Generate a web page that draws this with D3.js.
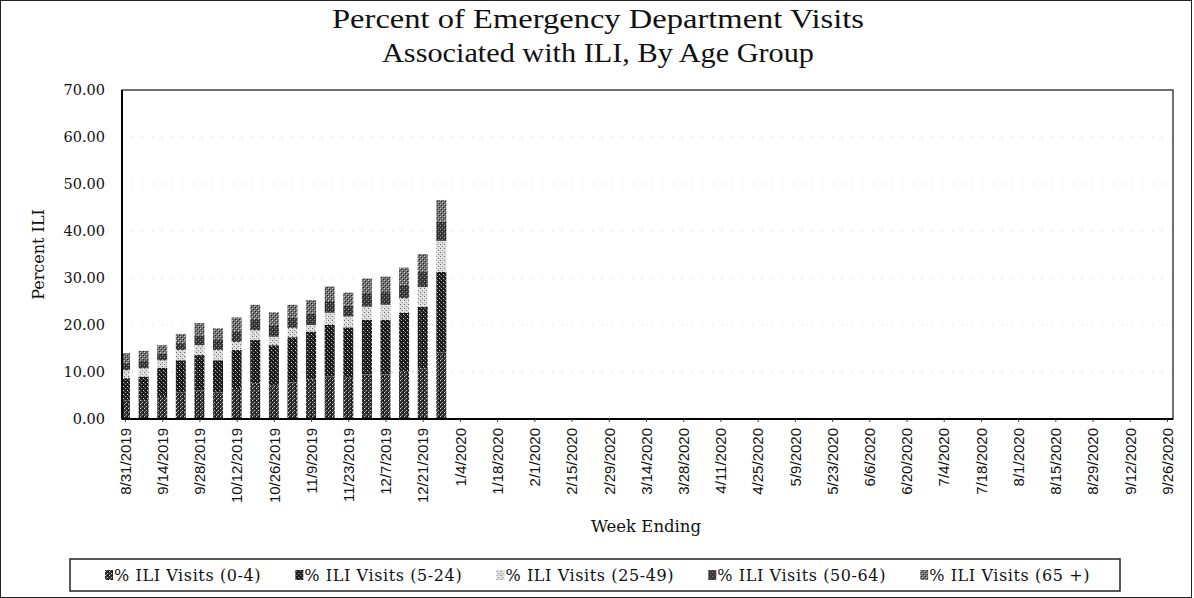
<!DOCTYPE html>
<html>
<head>
<meta charset="utf-8">
<script src="https://cdn.jsdelivr.net/npm/d3@7"></script>
<style>
  html, body { margin: 0; padding: 0; background: #fff; }
  svg { display: block; }
</style>
</head>
<body>
<svg id="chart" width="1194" height="598"></svg>
<script>
// ---- data ----
const categories = [
  "8/31/2019","9/7/2019","9/14/2019","9/21/2019","9/28/2019","10/5/2019","10/12/2019","10/19/2019",
  "10/26/2019","11/2/2019","11/9/2019","11/16/2019","11/23/2019","11/30/2019","12/7/2019","12/14/2019",
  "12/21/2019","12/28/2019",
  "1/4/2020","1/11/2020","1/18/2020","1/25/2020","2/1/2020","2/8/2020","2/15/2020","2/22/2020",
  "2/29/2020","3/7/2020","3/14/2020","3/21/2020","3/28/2020","4/4/2020","4/11/2020","4/18/2020",
  "4/25/2020","5/2/2020","5/9/2020","5/16/2020","5/23/2020","5/30/2020","6/6/2020","6/13/2020",
  "6/20/2020","6/27/2020","7/4/2020","7/11/2020","7/18/2020","7/25/2020","8/1/2020","8/8/2020",
  "8/15/2020","8/22/2020","8/29/2020","9/5/2020","9/12/2020","9/19/2020","9/26/2020"
];
const seriesNames = ["% ILI Visits (0-4)","% ILI Visits (5-24)","% ILI Visits (25-49)","% ILI Visits (50-64)","% ILI Visits (65 +)"];
const age0to4   = [3.9,4.0,4.9,5.6,6.1,5.6,6.6,7.6,7.1,7.8,8.4,9.0,8.8,9.5,9.5,10.2,10.8,14.1];
const age5to24  = [4.8,5.0,6.0,6.9,7.5,6.9,8.1,9.2,8.6,9.6,10.2,11.0,10.7,11.6,11.6,12.4,13.1,17.2];
const age25to49 = [1.7,1.8,1.6,2.2,2.1,2.2,1.7,2.1,1.8,2.0,1.4,2.6,2.3,2.8,3.2,3.1,4.2,6.6];
const age50to64 = [1.6,1.7,1.4,1.5,2.1,2.1,2.3,2.4,2.3,2.2,2.4,2.5,2.3,2.7,2.7,2.9,3.2,4.1];
const age65plus = [2.0,2.0,1.8,1.9,2.6,2.5,2.9,3.0,2.9,2.7,2.9,3.1,2.8,3.3,3.3,3.6,3.8,4.6];
const yTicks = [0,10,20,30,40,50,60,70];
const titleLines = ["Percent of Emergency Department Visits","Associated with ILI, By Age Group"];
const xTitle = "Week Ending";
const yTitle = "Percent ILI";

// ---- build table ----
const seriesArrays = [age0to4, age5to24, age25to49, age50to64, age65plus];
const keys = ["s0","s1","s2","s3","s4"];
const table = categories.map((c, i) => {
  const row = { cat: c };
  keys.forEach((k, j) => { row[k] = seriesArrays[j][i] != null ? seriesArrays[j][i] : 0; });
  return row;
});
const stacked = d3.stack().keys(keys)(table);

const svg = d3.select("#chart");
const W = 1194, H = 598;
const plot = { left: 122, right: 1173, top: 90, bottom: 419 };

// ---- patterns ----
const defs = svg.append("defs");
const patSpecs = [
  { bg: "#303030", dots: [[0,0,"#d8d8d8"],[2,2,"#bbbbbb"],[3,0,"#000"],[1,3,"#777"]] },
  { bg: "#1c1c1c", dots: [[1,0,"#9a9a9a"],[3,2,"#cfcfcf"],[0,3,"#555"]] },
  { bg: "#dcdcdc", dots: [[0,0,"#6a6a6a"],[2,2,"#8a8a8a"],[3,1,"#fff"]] },
  { bg: "#3a3a3a", dots: [[0,1,"#a0a0a0"],[2,3,"#909090"],[1,2,"#111"]] },
  { bg: "#707070", dots: [[0,0,"#cccccc"],[2,2,"#cccccc"],[1,1,"#222"],[3,3,"#222"]] }
];
patSpecs.forEach((p, i) => {
  const pat = defs.append("pattern").attr("id", "pat" + i)
    .attr("patternUnits", "userSpaceOnUse").attr("width", 4).attr("height", 4);
  pat.append("rect").attr("width", 4).attr("height", 4).attr("fill", p.bg);
  p.dots.forEach(d => pat.append("rect").attr("x", d[0]).attr("y", d[1]).attr("width", 1).attr("height", 1).attr("fill", d[2]));
});
defs.append("clipPath").attr("id", "plotclip").append("rect")
  .attr("x", plot.left).attr("y", plot.top)
  .attr("width", plot.right - plot.left).attr("height", plot.bottom - plot.top);

// ---- background & border ----
svg.append("rect").attr("x", 0).attr("y", 0).attr("width", W).attr("height", H).attr("fill", "#fff");
svg.append("rect").attr("x", 0.5).attr("y", 0.5).attr("width", 1191).attr("height", H - 1)
  .attr("fill", "none").attr("stroke", "#222").attr("stroke-width", 1);

// ---- scales ----
const x = d3.scalePoint().domain(categories).range([125, 1167]);
const y = d3.scaleLinear().domain([0, 70]).range([plot.bottom, plot.top]);
const barW = 10;

// ---- gridlines (faint dotted, as in the scanned original) ----
svg.append("g").selectAll("line").data(yTicks.filter(t => t > 0 && t < 70)).join("line")
  .attr("x1", plot.left).attr("x2", plot.right)
  .attr("y1", d => y(d)).attr("y2", d => y(d))
  .attr("stroke", "#9a9a9a").attr("stroke-width", 1).attr("stroke-dasharray", "1,9")
  .attr("opacity", 0.5);

// ---- bars ----
const barsG = svg.append("g").attr("clip-path", "url(#plotclip)");
stacked.forEach((layer, li) => {
  barsG.append("g").selectAll("rect").data(layer.filter(d => d[1] - d[0] > 0)).join("rect")
    .attr("x", d => x(d.data.cat) - barW / 2)
    .attr("width", barW)
    .attr("y", d => y(d[1]))
    .attr("height", d => y(d[0]) - y(d[1]))
    .attr("fill", "url(#pat" + li + ")");
});

// ---- plot frame ----
svg.append("rect").attr("x", plot.left).attr("y", plot.top)
  .attr("width", plot.right - plot.left).attr("height", plot.bottom - plot.top)
  .attr("fill", "none").attr("stroke", "#111").attr("stroke-width", 1.2);
svg.append("line").attr("x1", plot.left).attr("x2", plot.left).attr("y1", plot.top).attr("y2", plot.bottom)
  .attr("stroke", "#000").attr("stroke-width", 2);
svg.append("line").attr("x1", plot.left).attr("x2", plot.right).attr("y1", plot.bottom).attr("y2", plot.bottom)
  .attr("stroke", "#000").attr("stroke-width", 2);

// ---- y axis ----
const yAxis = d3.axisLeft(y).tickValues(yTicks).tickFormat(d3.format(".2f")).tickSize(0).tickPadding(17);
const yg = svg.append("g").attr("transform", `translate(${plot.left},0)`).call(yAxis);
yg.select(".domain").remove();
yg.selectAll("text").attr("font-family", "DejaVu Serif").attr("font-size", 14.5).attr("fill", "#111");

// ---- x axis ----
const labelCats = categories.filter((c, i) => i % 2 === 0);
const xAxis = d3.axisBottom(x).tickValues(labelCats).tickSize(3).tickPadding(6);
const xg = svg.append("g").attr("transform", `translate(0,${plot.bottom})`).call(xAxis);
xg.select(".domain").remove();
xg.selectAll(".tick line").attr("stroke", "#444");
xg.selectAll(".tick text")
  .attr("font-family", "Liberation Sans, Arial, sans-serif").attr("font-size", 15).attr("fill", "#111")
  .attr("text-anchor", "end")
  .attr("transform", "rotate(-90)").attr("x", -9).attr("y", 0).attr("dy", "0.35em");

// ---- titles ----
svg.append("text").attr("x", 598).attr("y", 28).attr("text-anchor", "middle")
  .attr("font-family", "Liberation Serif, Times New Roman, serif").attr("font-size", 28).attr("fill", "#111")
  .attr("textLength", 532).attr("lengthAdjust", "spacingAndGlyphs")
  .text(titleLines[0]);
svg.append("text").attr("x", 598).attr("y", 62).attr("text-anchor", "middle")
  .attr("font-family", "Liberation Serif, Times New Roman, serif").attr("font-size", 28).attr("fill", "#111")
  .attr("textLength", 432).attr("lengthAdjust", "spacingAndGlyphs")
  .text(titleLines[1]);

svg.append("text").attr("x", 646).attr("y", 532).attr("text-anchor", "middle")
  .attr("font-family", "DejaVu Serif").attr("font-size", 16.5).attr("fill", "#111")
  .text(xTitle);
svg.append("text").attr("transform", `translate(44,${(plot.top + plot.bottom) / 2}) rotate(-90)`)
  .attr("text-anchor", "middle")
  .attr("font-family", "DejaVu Serif").attr("font-size", 16).attr("fill", "#111")
  .text(yTitle);

// ---- legend ----
const leg = { x: 70, y: 559, w: 1050, h: 32 };
svg.append("rect").attr("x", leg.x).attr("y", leg.y).attr("width", leg.w).attr("height", leg.h)
  .attr("fill", "#fff").attr("stroke", "#222").attr("stroke-width", 1.5);
const legStart = 105, legEnd = 1090, swW = 8, swGap = 1;
const entries = seriesNames.map((name, i) => {
  const g = svg.append("g");
  g.append("rect").attr("x", 0).attr("y", -5).attr("width", swW).attr("height", 10)
    .attr("fill", "url(#pat" + i + ")");
  const t = g.append("text").attr("x", swW + swGap).attr("y", 5.5)
    .attr("font-family", "DejaVu Serif").attr("font-size", 16).attr("letter-spacing", 0.6)
    .attr("fill", "#111").text(name);
  return { g, w: swW + swGap + t.node().getComputedTextLength() };
});
const totalW = d3.sum(entries, e => e.w);
const gap = (legEnd - legStart - totalW) / (entries.length - 1);
let lx = legStart;
entries.forEach(e => {
  e.g.attr("transform", `translate(${lx},${leg.y + leg.h / 2})`);
  lx += e.w + gap;
});
</script>
</body>
</html>
